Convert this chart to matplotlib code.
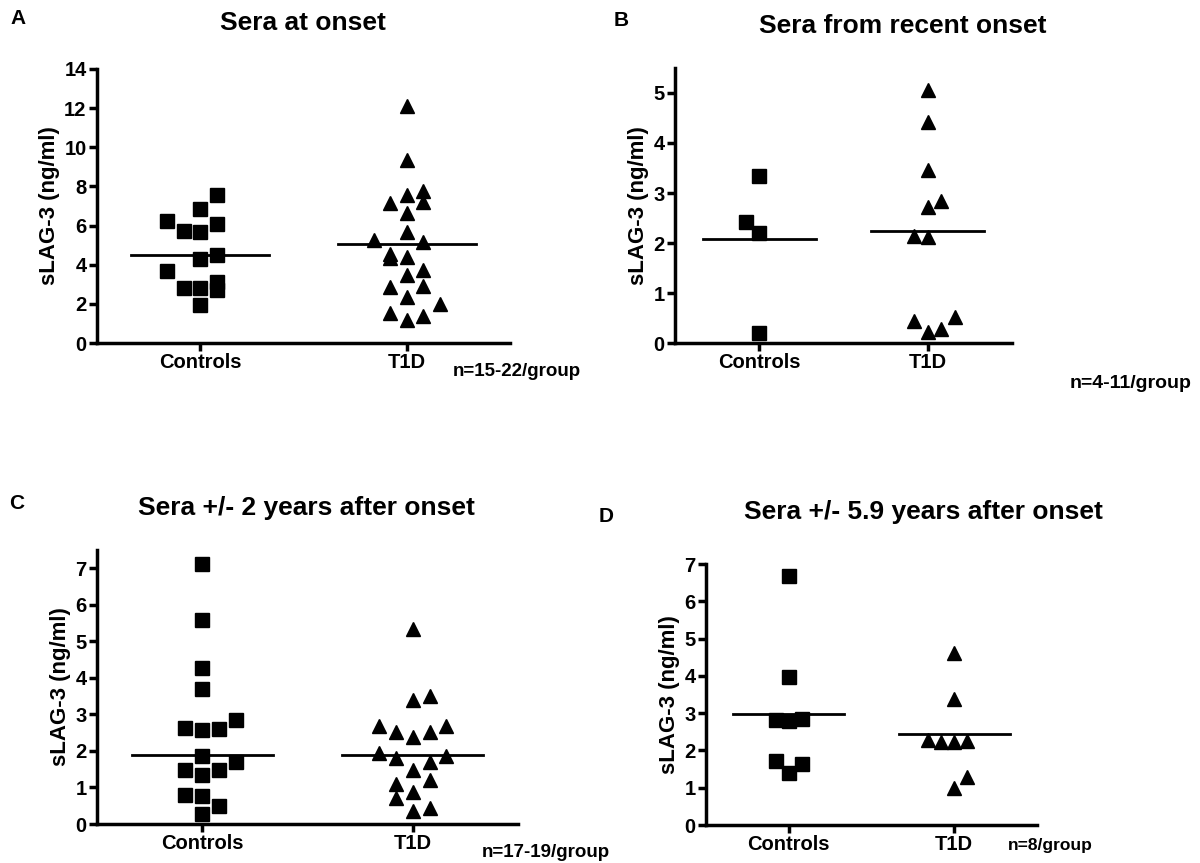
import matplotlib
matplotlib.use("Agg")
import numpy as np
from matplotlib import pyplot as plt

plt.rcParams["font.family"] = ["Liberation Sans", "DejaVu Sans"]
plt.rcParams["font.weight"] = "bold"

groups = ["Controls", "T1D"]

# panel A - sera at onset
onset_ctrl = [7.58, 6.87, 6.22, 6.10, 5.74, 5.66, 4.48, 4.31, 3.66, 3.12, 2.79, 2.79, 2.69, 1.94]
onset_t1d = [12.10, 9.37, 7.75, 7.58, 7.19, 7.16, 6.64, 5.66, 5.25, 5.14, 4.57, 4.40, 4.34,
             3.71, 3.49, 2.93, 2.85, 2.35, 2.01, 1.53, 1.40, 1.16]
onset_lines = [4.51, 5.04]

# panel B - sera from recent onset
recent_ctrl = [3.33, 2.42, 2.20, 0.21]
recent_t1d = [5.05, 4.42, 3.45, 2.83, 2.72, 2.14, 2.11, 0.52, 0.44, 0.28, 0.22]
recent_lines = [2.07, 2.23]

# panel C - +/- 2 years after onset
two_ctrl = [7.11, 5.59, 4.27, 3.69, 2.84, 2.64, 2.61, 2.58, 1.87, 1.71, 1.47, 1.47, 1.33,
            0.80, 0.77, 0.48, 0.28]
two_t1d = [5.34, 3.51, 3.40, 2.69, 2.67, 2.53, 2.51, 2.38, 1.94, 1.85, 1.80, 1.70, 1.49,
           1.20, 1.10, 0.88, 0.71, 0.44, 0.36]
two_lines = [1.88, 1.88]

# panel D - +/- 5.9 years after onset
six_ctrl = [6.68, 3.98, 2.84, 2.82, 2.79, 1.72, 1.64, 1.39]
six_t1d = [4.60, 3.37, 2.28, 2.26, 2.23, 2.23, 1.28, 0.98]
six_lines = [2.99, 2.43]

# column-scatter slots (horizontal spread of overlapping points)
slots_onset = ([1, 0, -2, 1, -1, 0, 1, 0, -2, 1, -1, 0, 1, 0],
               [0, 0, 1, 0, 1, -1, 0, 0, -2, 1, -1, 0, -1, 1, 0, 1, -1, 0, 2, -1, 1, 0])
slots_recent = ([0, -1, 0, 0], [0, 0, 0, 1, 0, -1, 0, 2, -1, 1, 0])
slots_two = ([0, 0, 0, 0, 2, -1, 1, 0, 0, 2, -1, 1, 0, -1, 0, 1, 0],
             [0, 1, 0, -2, 2, 1, -1, 0, -2, 2, -1, 1, 0, 1, -1, 0, -1, 1, 0])
slots_six = ([0, 0, 1, -1, 0, -1, 1, 0], [0, 0, -2, 1, -1, 0, 1, 0])

W, H = 1200, 863
fig = plt.figure(figsize=(W / 100, H / 100), dpi=100)


def px_axes(left, top, right, bottom):
    return fig.add_axes([left / W, 1 - bottom / H, (right - left) / W, (bottom - top) / H])


def draw_panel(ax, ctrl, t1d, lines, slots, ymax, yticks):
    for i, (vals, marker) in enumerate([(ctrl, "s"), (t1d, "^")]):
        x = i + 0.08 * np.array(slots[i])
        ax.plot(x, vals, linestyle="none", marker=marker, color="black",
                markersize=9.5 if marker == "s" else 10, clip_on=False, zorder=3)
        ax.plot([i - 0.335, i + 0.335], [lines[i], lines[i]], color="black", lw=2, zorder=2)
    ax.set_xlim(-0.5, 1.5)
    ax.set_ylim(0, ymax)
    ax.set_yticks(yticks)
    ax.set_xticks([0, 1])
    ax.set_xticklabels(groups, fontsize=14.5, fontweight="bold")
    for lab in ax.get_yticklabels():
        lab.set_fontsize(14.5)
        lab.set_fontweight("bold")
    ax.set_ylabel("sLAG-3 (ng/ml)", fontsize=16, fontweight="bold", labelpad=3)
    for side in ["top", "right"]:
        ax.spines[side].set_visible(False)
    for side in ["left", "bottom"]:
        ax.spines[side].set_linewidth(2.5)
    ax.tick_params(axis="both", width=2.5, length=6, pad=1.5)


axA = px_axes(97, 69, 510, 343)
draw_panel(axA, onset_ctrl, onset_t1d, onset_lines, slots_onset, 14, range(0, 15, 2))
axB = px_axes(675, 68, 1012, 343)
draw_panel(axB, recent_ctrl, recent_t1d, recent_lines, slots_recent, 5.5, range(0, 6))
axC = px_axes(97, 550, 518, 824)
draw_panel(axC, two_ctrl, two_t1d, two_lines, slots_two, 7.5, range(0, 8))
axD = px_axes(706, 564, 1037, 825)
draw_panel(axD, six_ctrl, six_t1d, six_lines, slots_six, 7, range(0, 8))

# titles, panel letters and group sizes
titles = [("Sera at onset", 303, 23), ("Sera from recent onset", 903, 26),
          ("Sera +/- 2 years after onset", 306, 508), ("Sera +/- 5.9 years after onset", 923, 512)]
for txt, x, y in titles:
    fig.text(x / W, 1 - y / H, txt, ha="center", va="center", fontsize=19, fontweight="bold")

for txt, x, y in [("A", 18, 19), ("B", 621, 21), ("C", 17, 503), ("D", 606, 516)]:
    fig.text(x / W, 1 - y / H, txt, ha="center", va="center", fontsize=15, fontweight="bold")

for txt, x, y, fs in [("n=15-22/group", 453, 371, 13.5), ("n=4-11/group", 1070, 383, 14),
                      ("n=17-19/group", 482, 852, 13.5), ("n=8/group", 1008, 845, 12.5)]:
    fig.text(x / W, 1 - y / H, txt, ha="left", va="center", fontsize=fs, fontweight="bold")

fig.savefig("out.png", dpi=100)
